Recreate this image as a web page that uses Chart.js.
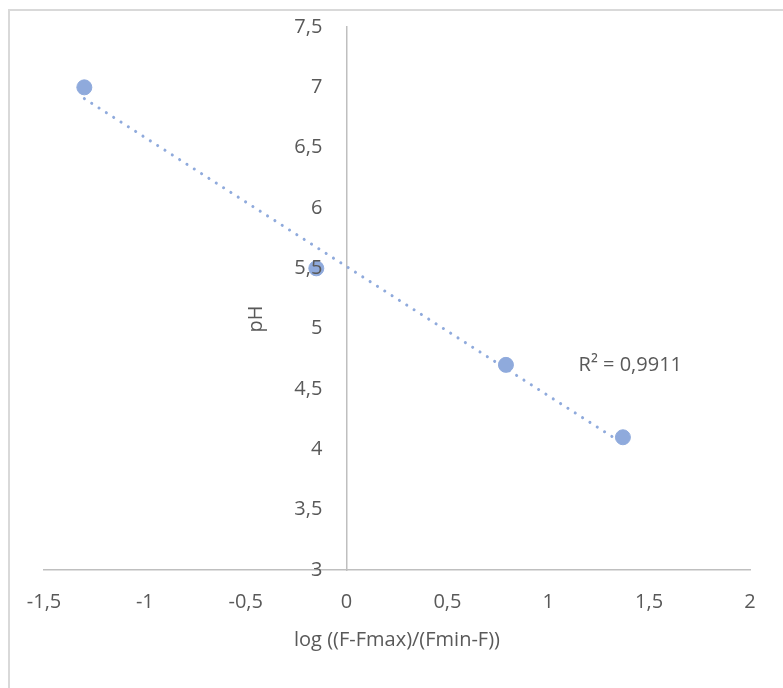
<!DOCTYPE html>
<html>
<head>
<meta charset="utf-8">
<script src="https://cdn.jsdelivr.net/npm/chart.js@4.4.1/dist/chart.umd.min.js"></script>
<style>
  html, body { margin: 0; padding: 0; background: #fff; overflow: hidden; }
  .chart-container { position: relative; width: 783px; height: 688px; }
</style>
</head>
<body>
<div class="chart-container">
  <canvas id="scatterChart"></canvas>
</div>
<script>
const xValues = [-1.3, -0.15, 0.79, 1.37];
const phValues = [7.0, 5.5, 4.7, 4.1];
const xTitle = 'log ((F-Fmax)/(Fmin-F))';
const yTitle = 'pH';
const r2Label = 'R² = 0,9911';

// linear fit through the points (Excel-style trendline)
const n = xValues.length;
const mx = xValues.reduce((a, b) => a + b, 0) / n;
const my = phValues.reduce((a, b) => a + b, 0) / n;
let sxy = 0, sxx = 0;
xValues.forEach((x, i) => { sxy += (x - mx) * (phValues[i] - my); sxx += (x - mx) * (x - mx); });
const slope = sxy / sxx;
const intercept = my - slope * mx;
const trend = [Math.min(...xValues), Math.max(...xValues)].map(x => ({ x: x, y: intercept + slope * x }));

const points = xValues.map((x, i) => ({ x: x, y: phValues[i] }));
const comma = v => String(v).replace('.', ',');

const FONT = '"Open Sans", sans-serif';
const SIZE = 20;
const TEXT = '#595959';
const AXIS = '#bfbfbf';

const decor = {
  id: 'decor',
  beforeDraw(chart) {
    const ctx = chart.ctx;
    ctx.save();
    ctx.strokeStyle = '#d9d9d9';
    ctx.lineWidth = 2;
    ctx.strokeRect(9, 10, chart.width + 20, chart.height + 20);
    ctx.restore();
  },
  afterDraw(chart) {
    const ctx = chart.ctx;
    const xs = chart.scales.x, ys = chart.scales.y;
    ctx.save();
    ctx.fillStyle = TEXT;
    ctx.font = SIZE + 'px ' + FONT;
    ctx.textAlign = 'left';
    ctx.textBaseline = 'middle';
    ctx.fillText(r2Label, xs.getPixelForValue(1.15), ys.getPixelForValue(4.7));
    // y axis title sits left of the tick labels
    ctx.translate(xs.getPixelForValue(-0.45), ys.getPixelForValue(5.08));
    ctx.rotate(-Math.PI / 2);
    ctx.textAlign = 'center';
    ctx.fillText(yTitle, 0, 0);
    ctx.restore();
  }
};

const yRange = { type: 'linear', min: 3, max: 7.5 };

new Chart(document.getElementById('scatterChart'), {
  type: 'scatter',
  data: {
    datasets: [
      {
        label: 'pH',
        data: points,
        backgroundColor: '#8FAADC',
        borderColor: '#8FAADC',
        pointRadius: 7.5,
        pointHoverRadius: 7.5,
        order: 1,
      },
      {
        type: 'line',
        label: 'trend',
        data: trend,
        borderColor: '#8FAADC',
        borderWidth: 3,
        borderDash: [0.1, 8.6],
        borderCapStyle: 'round',
        pointRadius: 0,
        fill: false,
        order: 2,
      },
    ],
  },
  options: {
    responsive: true,
    maintainAspectRatio: false,
    animation: false,
    layout: { padding: { left: 44, right: 33, top: 27, bottom: 36 } },
    plugins: {
      legend: { display: false },
      tooltip: { enabled: false },
    },
    scales: {
      x: {
        type: 'linear',
        min: -1.5,
        max: 2,
        grid: { display: false, drawTicks: false },
        border: { display: true, color: AXIS, width: 1.5 },
        ticks: {
          stepSize: 0.5,
          padding: 20,
          color: TEXT,
          font: { family: FONT, size: SIZE },
          callback: v => comma(v),
        },
        title: {
          display: true,
          text: xTitle,
          color: TEXT,
          font: { family: FONT, size: SIZE },
          padding: { top: 0, bottom: 0 },
        },
        afterFit: s => { s.height = 82; s.paddingLeft = 0; s.paddingRight = 0; },
      },
      // axis line through x = 0
      y: {
        ...yRange,
        position: { x: 0 },
        grid: { display: false, drawTicks: false },
        border: { display: true, color: AXIS, width: 1.5 },
        ticks: { display: false, stepSize: 0.5 },
        afterFit: s => { s.paddingTop = 0; s.paddingBottom = 0; },
      },
      // tick labels, a little left of the axis line, drawn over the points
      yLabels: {
        ...yRange,
        axis: 'y',
        position: { x: -0.12 },
        grid: { display: false, drawTicks: false },
        border: { display: false },
        ticks: {
          z: 1,
          stepSize: 0.5,
          color: TEXT,
          font: { family: FONT, size: SIZE },
          callback: v => comma(v),
        },
        afterFit: s => { s.paddingTop = 0; s.paddingBottom = 0; },
      },
    },
  },
  plugins: [decor],
});
</script>
</body>
</html>
